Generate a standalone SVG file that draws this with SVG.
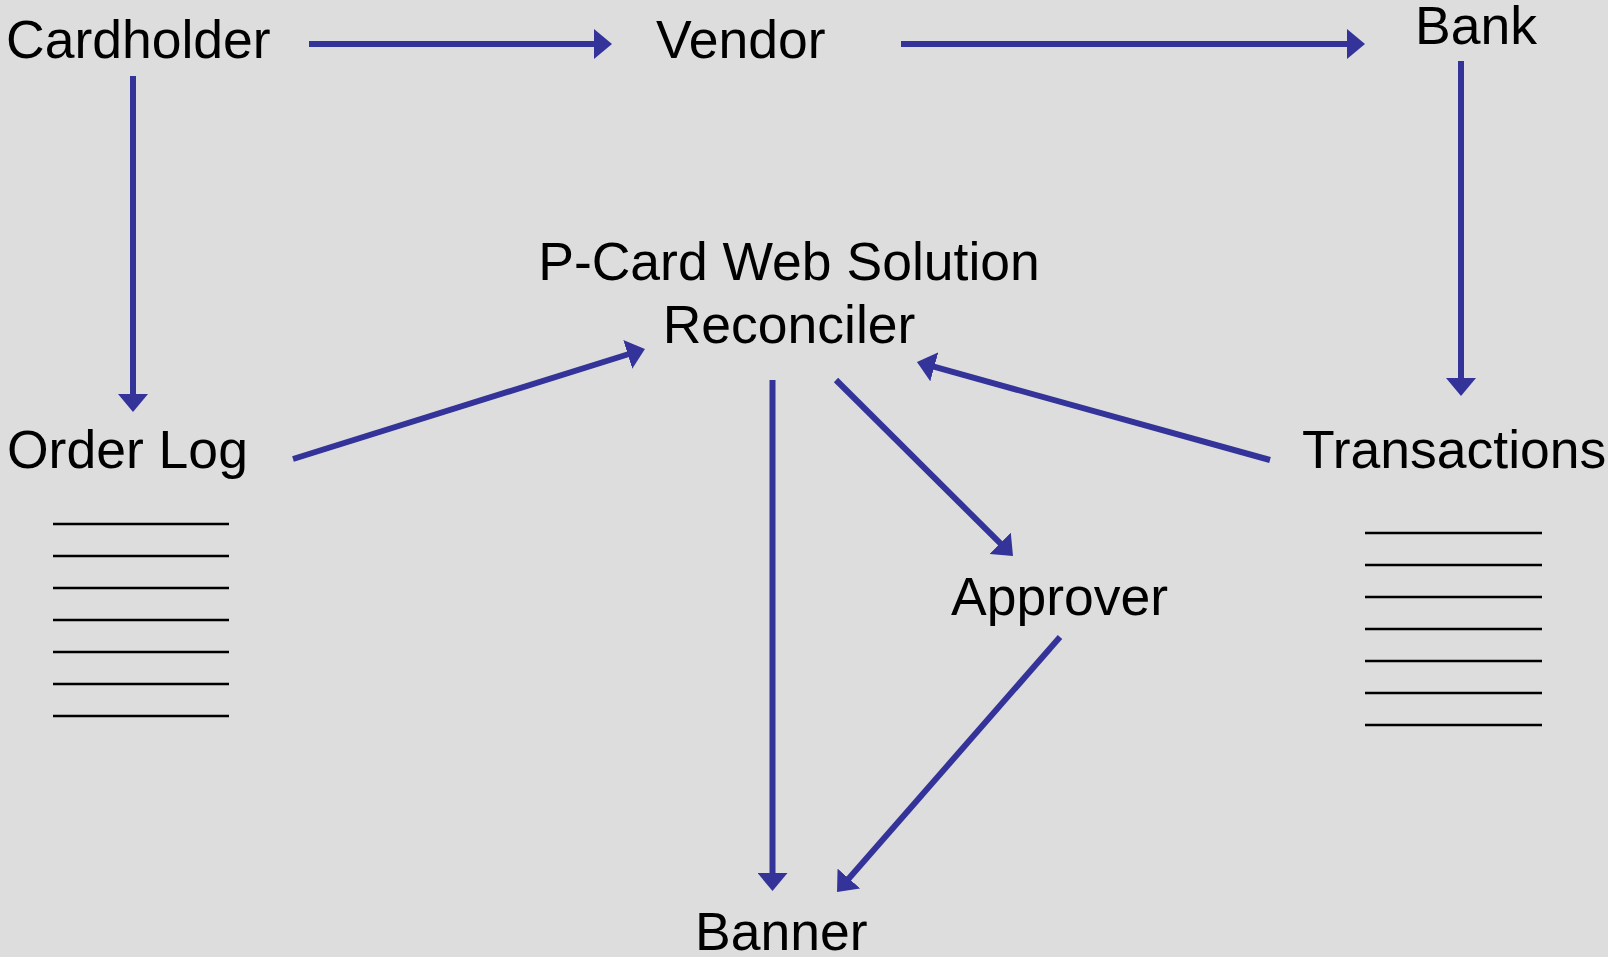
<svg xmlns="http://www.w3.org/2000/svg" width="1608" height="957" viewBox="0 0 1608 957">
  <style>
    .lbl { font-family: "Liberation Sans", Arial, sans-serif; font-size: 53.5px; fill: #000000; }
    .mid { text-anchor: middle; }
    .flow { stroke: #333399; stroke-width: 6; fill: none; marker-end: url(#head); }
    .rule { stroke: #000000; stroke-width: 2.5; }
  </style>
  <defs>
    <marker id="head" viewBox="0 0 18 30" refX="8" refY="15" markerWidth="18" markerHeight="30" markerUnits="userSpaceOnUse" orient="auto">
      <path d="M0,0 L18,15 L0,30 Z" fill="#333399"/>
    </marker>
  </defs>

  <rect x="0" y="0" width="1608" height="957" fill="#DDDDDD"/>

  <g id="cardholder">
    <text class="lbl" x="6" y="58">Cardholder</text>
  </g>
  <g id="vendor">
    <text class="lbl" x="656" y="58">Vendor</text>
  </g>
  <g id="bank">
    <text class="lbl" x="1415" y="44">Bank</text>
  </g>
  <g id="reconciler">
    <text class="lbl mid" x="789" y="280">P-Card Web Solution</text>
    <text class="lbl mid" x="789" y="343">Reconciler</text>
  </g>
  <g id="order-log">
    <text class="lbl" x="7" y="468">Order Log</text>
    <g class="rule">
      <line x1="53" y1="524" x2="229" y2="524"/>
      <line x1="53" y1="556" x2="229" y2="556"/>
      <line x1="53" y1="588" x2="229" y2="588"/>
      <line x1="53" y1="620" x2="229" y2="620"/>
      <line x1="53" y1="652" x2="229" y2="652"/>
      <line x1="53" y1="684" x2="229" y2="684"/>
      <line x1="53" y1="716" x2="229" y2="716"/>
    </g>
  </g>
  <g id="transactions">
    <text class="lbl" x="1302" y="468">Transactions</text>
    <g class="rule">
      <line x1="1365" y1="533" x2="1542" y2="533"/>
      <line x1="1365" y1="565" x2="1542" y2="565"/>
      <line x1="1365" y1="597" x2="1542" y2="597"/>
      <line x1="1365" y1="629" x2="1542" y2="629"/>
      <line x1="1365" y1="661" x2="1542" y2="661"/>
      <line x1="1365" y1="693" x2="1542" y2="693"/>
      <line x1="1365" y1="725" x2="1542" y2="725"/>
    </g>
  </g>
  <g id="approver">
    <text class="lbl" x="951" y="615">Approver</text>
  </g>
  <g id="banner">
    <text class="lbl" x="695" y="950">Banner</text>
  </g>

  <g id="connectors">
    <line class="flow" x1="309" y1="44" x2="602" y2="44"/>
    <line class="flow" x1="901" y1="44" x2="1355" y2="44"/>
    <line class="flow" x1="133" y1="76" x2="133" y2="402"/>
    <line class="flow" x1="1461" y1="61" x2="1461" y2="386"/>
    <line class="flow" x1="293" y1="459" x2="635.4" y2="352"/>
    <line class="flow" x1="1270" y1="460" x2="926.6" y2="364.7"/>
    <line class="flow" x1="772.5" y1="380" x2="772.5" y2="881"/>
    <line class="flow" x1="836" y1="380" x2="1005.9" y2="548.9"/>
    <line class="flow" x1="1060" y1="637" x2="843.6" y2="884.5"/>
  </g>
</svg>
